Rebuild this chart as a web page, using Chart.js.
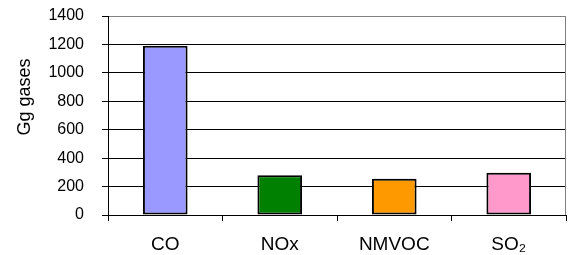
<!DOCTYPE html>
<html>
<head>
<meta charset="utf-8">
<script src="https://cdn.jsdelivr.net/npm/chart.js@4/dist/chart.umd.min.js"></script>
<style>
  html, body { margin: 0; padding: 0; background: #fff; }
  #wrap { width: 571px; height: 255px; }
</style>
</head>
<body>
<div id="wrap"><canvas id="gasChart"></canvas></div>
<script>
var gases = ['CO', 'NOx', 'NMVOC', 'SO\u2082'];
var ggValues = [1190, 280, 255, 297];
var barColors = ['#9999FF', '#008000', '#FF9900', '#FF99CC'];
var yTicks = [0, 200, 400, 600, 800, 1000, 1200, 1400];

var fontFamily = '"Liberation Sans", Arial, sans-serif';

// rotated y title and grey frame on the right
var extras = {
    id: 'extras',
    afterDraw: function (chart) {
        var c = chart.ctx;
        var a = chart.chartArea;
        c.save();
        c.strokeStyle = '#808080';
        c.lineWidth = 1;
        c.beginPath();
        c.moveTo(Math.round(a.right) - 0.5, a.top);
        c.lineTo(Math.round(a.right) - 0.5, a.bottom);
        c.stroke();
        c.translate(25, 97);
        c.rotate(-Math.PI / 2);
        c.fillStyle = '#000';
        c.font = '18px ' + fontFamily;
        c.textAlign = 'center';
        c.textBaseline = 'middle';
        c.fillText('Gg gases', 0, 0);
        c.restore();
    }
};

var ctx = document.getElementById('gasChart').getContext('2d');
var gasChart = new Chart(ctx, {
    type: 'bar',
    data: {
        labels: gases,
        datasets: [{
            data: ggValues,
            backgroundColor: barColors,
            borderColor: '#000',
            borderWidth: 2,
            borderSkipped: false,
            categoryPercentage: 1,
            barPercentage: 0.39
        }]
    },
    options: {
        responsive: true,
        maintainAspectRatio: false,
        animation: false,
        layout: { padding: { top: 0, right: 5, left: 0, bottom: 0 } },
        plugins: {
            legend: { display: false },
            tooltip: { enabled: false }
        },
        scales: {
            x: {
                grid: {
                    offset: true,
                    drawOnChartArea: false,
                    drawTicks: true,
                    tickLength: 6,
                    tickColor: '#000'
                },
                border: { color: '#000', width: 1 },
                ticks: {
                    color: '#000',
                    padding: 12,
                    font: { family: fontFamily, size: 19 }
                },
                afterFit: function (scale) { scale.height = 40; }
            },
            y: {
                min: 0,
                max: 1400,
                afterBuildTicks: function (scale) {
                    scale.ticks = yTicks.map(function (v) { return { value: v }; });
                },
                grid: {
                    color: function (c) { return c.tick && c.tick.value === 1400 ? '#808080' : '#000'; },
                    tickColor: '#000',
                    tickLength: 6
                },
                border: { color: '#000', width: 1 },
                ticks: {
                    color: '#000',
                    padding: 18,
                    font: { family: fontFamily, size: 16 },
                    callback: function (v) { return String(v); }
                },
                afterFit: function (scale) {
                    scale.width = 108;
                    scale.paddingTop = 16;
                    scale.paddingBottom = 0;
                }
            }
        }
    },
    plugins: [extras]
});
</script>
</body>
</html>
